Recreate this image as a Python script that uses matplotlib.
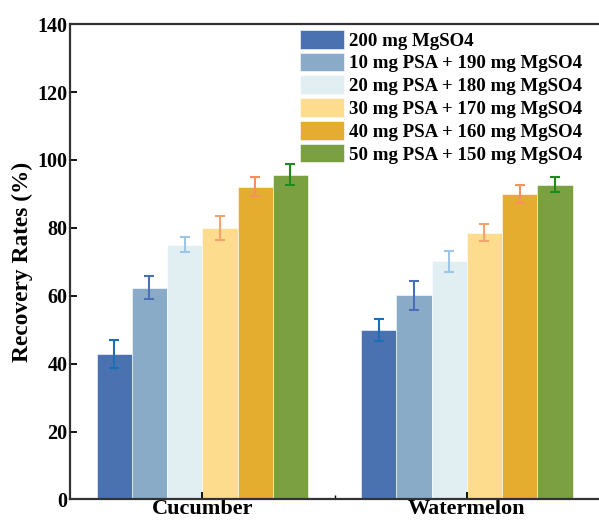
import numpy as np
import matplotlib
matplotlib.use("Agg")
from matplotlib import pyplot as plt

# data
samples = ["Cucumber", "Watermelon"]
treatments = ["200 mg MgSO4",
              "10 mg PSA + 190 mg MgSO4",
              "20 mg PSA + 180 mg MgSO4",
              "30 mg PSA + 170 mg MgSO4",
              "40 mg PSA + 160 mg MgSO4",
              "50 mg PSA + 150 mg MgSO4"]
cucumber = [42.8, 62.4, 75.0, 79.9, 92.1, 95.7]
cucumber_err = [4.1, 3.4, 2.2, 3.5, 2.8, 3.2]
watermelon = [50.0, 60.1, 70.1, 78.6, 90.0, 92.7]
watermelon_err = [3.3, 4.3, 3.2, 2.5, 2.7, 2.2]

bar_colors = ["#4a72b0", "#8aabc8", "#e2eff2", "#fddc8e", "#e5ad30", "#7aa042"]
err_colors = ["#1a6fb5", "#4a6fb5", "#9cc5e8", "#f5a36c", "#f78f5f", "#1e8a1e"]

plt.rcParams['font.family'] = ['Liberation Serif', 'DejaVu Serif']
plt.rcParams['font.weight'] = 'bold'

fig = plt.figure(figsize=(5.99, 5.2), dpi=100)
ax = fig.add_axes([0.117, 0.0395, 0.883, 0.914])

x = np.arange(len(samples))
w = 0.8 / len(treatments)
for i, name in enumerate(treatments):
  vals = [cucumber[i], watermelon[i]]
  errs = [cucumber_err[i], watermelon_err[i]]
  pos = x - 0.4 + w * (i + 0.5)
  ax.bar(pos, vals, width=w, color=bar_colors[i], edgecolor='white',
    linewidth=0.4, label=name)
  ax.errorbar(pos, vals, yerr=errs, fmt='none', ecolor=err_colors[i],
    elinewidth=1.5, capsize=3.3, capthick=1.5)

ax.set_xlim(-0.5, 1.5)
ax.set_ylim(0, 140)
ax.set_yticks(range(0, 141, 20))
ax.set_xticks(x)
ax.set_xticks([0.5], minor=True)
ax.set_xticklabels(samples, fontsize=16, fontweight='bold')
ax.tick_params(axis='y', direction='in', length=5, width=1.3, labelsize=14.5, pad=2)
ax.tick_params(axis='x', which='major', direction='in', length=5, width=1.3, pad=0)
ax.tick_params(axis='x', which='minor', direction='in', length=3, width=1.0)
for t in ax.get_yticklabels():
  t.set_fontweight('bold')

ax.spines['right'].set_visible(False)
for s in ['top', 'bottom', 'left']:
  ax.spines[s].set_linewidth(1.6)
  ax.spines[s].set_color('#333333')

ax.set_ylabel("Recovery Rates (%)", fontsize=16.8, fontweight='bold', labelpad=3)

ax.legend(loc='upper left', bbox_to_anchor=(0.495, 0.950), bbox_transform=fig.transFigure,
  frameon=False, handlelength=2.3, handleheight=1.15,
  handletextpad=0.3, labelspacing=0.16, borderpad=0.2, borderaxespad=0,
  prop={'weight': 'bold', 'size': 13.6})

plt.savefig('out.png', dpi=100)
